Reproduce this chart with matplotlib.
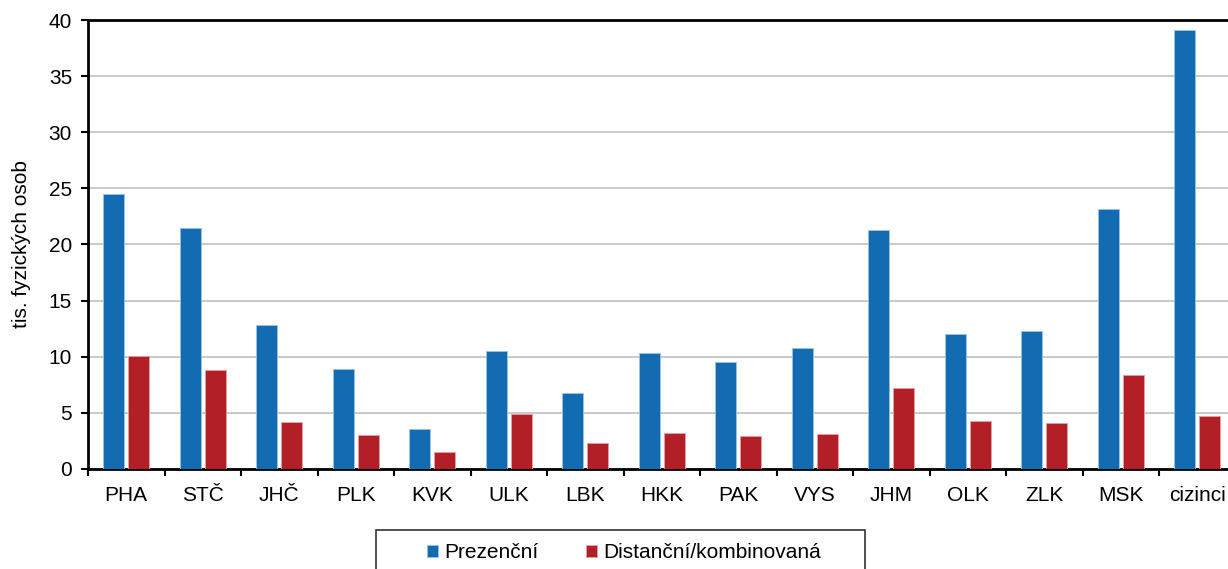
import matplotlib

matplotlib.use("agg")
import matplotlib.pyplot as plt
from matplotlib.patches import Rectangle
import numpy as np

plt.rcParams['font.family'] = ['Liberation Sans', 'DejaVu Sans']

regions = ["PHA", "STČ", "JHČ", "PLK", "KVK", "ULK", "LBK", "HKK", "PAK", "VYS",
           "JHM", "OLK", "ZLK", "MSK", "cizinci"]
prezencni = [24.5, 21.5, 12.8, 8.9, 3.6, 10.5, 6.8, 10.3, 9.5, 10.8, 21.3, 12.0, 12.3, 23.2, 39.1]
distancni = [10.1, 8.8, 4.2, 3.0, 1.5, 4.9, 2.3, 3.2, 2.9, 3.1, 7.2, 4.3, 4.1, 8.4, 4.7]
y_ticks = [0, 5, 10, 15, 20, 25, 30, 35, 40]

blue = "#136cb2"
red = "#b21f26"
W, H = 1228, 569

fig = plt.figure(figsize=(W / 100, H / 100), dpi=100)
ax = fig.add_axes([88 / W, 100 / H, 1147.5 / W, 449 / H])

x = np.arange(len(regions))
w = 0.275
ax.bar(x - 0.163, prezencni, w, color=blue, edgecolor="#9cc3e6", linewidth=0.6,
       label="Prezenční", zorder=3)
ax.bar(x + 0.163, distancni, w, color=red, edgecolor="#e6a0a3", linewidth=0.6,
       label="Distanční/kombinovaná", zorder=3)

ax.set_xlim(-0.5, len(regions) - 0.5)
ax.set_ylim(0, 40)
ax.set_yticks(y_ticks)
ax.set_xticks(x)
ax.set_xticklabels(regions)
ax.set_xticks(np.arange(len(regions) + 1) - 0.5, minor=True)
ax.tick_params(axis="x", which="major", length=0, pad=12, labelsize=15)
ax.tick_params(axis="x", which="minor", length=5, width=1.5, direction="out")
ax.tick_params(axis="y", length=5, width=1.5, direction="out", labelsize=15, pad=6.5)
ax.yaxis.grid(True, color="#c0c0c0", linewidth=1.2, zorder=0)
ax.set_axisbelow(True)

for side in ["left", "top", "bottom"]:
    ax.spines[side].set_linewidth(2)
    ax.spines[side].set_color("black")
ax.spines["right"].set_visible(False)

ax.set_ylabel("tis. fyzických osob", fontsize=15, labelpad=13)

# legend box is cut off by the bottom edge in the original
fig.patches.append(Rectangle((376 / W, -0.05), (865 - 376) / W, 0.05 + 39 / H,
                             transform=fig.transFigure, fill=False,
                             edgecolor="#333333", linewidth=1.2))
fig.legend(loc="center", bbox_to_anchor=(624 / W, 16 / H), ncol=2,
           fontsize=15, frameon=False, handlelength=0.5, handleheight=0.5,
           handletextpad=0.3, columnspacing=2.3, borderaxespad=0, borderpad=0)

fig.savefig("out.png", dpi=100)
